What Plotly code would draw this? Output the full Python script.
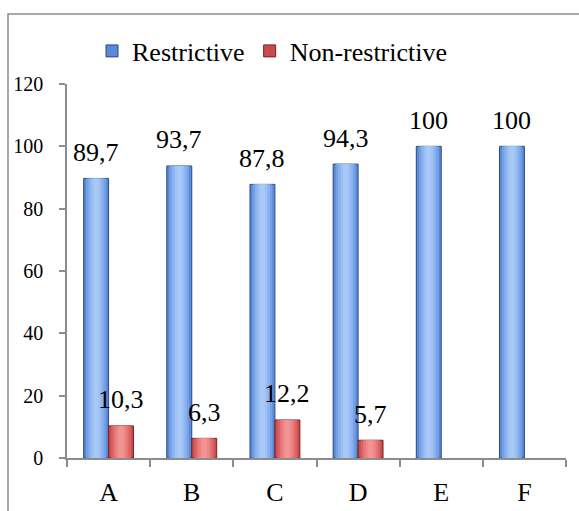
import plotly.graph_objects as go

categories = ["A", "B", "C", "D", "E", "F"]
restrictive = [89.7, 93.7, 87.8, 94.3, 100, 100]
non_restrictive = [10.3, 6.3, 12.2, 5.7, None, None]
restrictive_labels = ["89,7", "93,7", "87,8", "94,3", "100", "100"]
non_restrictive_labels = ["10,3", "6,3", "12,2", "5,7", "", ""]
y_ticks = [0, 20, 40, 60, 80, 100, 120]

FONT = "Liberation Serif"
BAR_W = 0.3

blue_layers = ["#5a88d6", "#74a0e6", "#8ab2ee", "#9cc0f4", "#a8c9f8"]
red_layers = ["#c84c4c", "#da6262", "#e67676", "#ee8888", "#f29494"]
fracs = [1.0, 0.8, 0.6, 0.4, 0.2]

fig = go.Figure()

def add_series(name, values, colors, line_color, side):
    for i, (f, c) in enumerate(zip(fracs, colors)):
        w = BAR_W * f
        center = -BAR_W / 2 if side < 0 else BAR_W / 2
        fig.add_trace(go.Bar(
            x=categories, y=values, name=name,
            width=w, offset=center - w / 2,
            marker=dict(color=c, line=dict(color=line_color if i == 0 else c, width=1 if i == 0 else 0)),
            showlegend=(i == 0), legendgroup=name, hoverinfo="skip" if i else None,
        ))

add_series("Restrictive", restrictive, blue_layers, "#2c4c80", -1)
add_series("Non-restrictive", non_restrictive, red_layers, "#7a2020", 1)

annotations = []
for cat, v, t in zip(categories, restrictive, restrictive_labels):
    if v is not None and t:
        annotations.append(dict(x=cat, y=v, text=t, showarrow=False, xshift=-12.5, yshift=26,
                                yanchor="middle", font=dict(family=FONT, size=26, color="black")))
for cat, v, t in zip(categories, non_restrictive, non_restrictive_labels):
    if v is not None and t:
        annotations.append(dict(x=cat, y=v, text=t, showarrow=False, xshift=12.5, yshift=26,
                                yanchor="middle", font=dict(family=FONT, size=26, color="black")))

L, R, T, B = 67, 13, 84, 53
W, H = 579, 511
pw, ph = W - L - R, H - T - B

fig.update_layout(
    width=W, height=H,
    margin=dict(l=L, r=R, t=T, b=B, autoexpand=False),
    paper_bgcolor="white", plot_bgcolor="white",
    barmode="overlay",
    font=dict(family=FONT, color="black"),
    annotations=annotations,
    showlegend=True,
    legend=dict(orientation="h", x=(92 - L) / pw, xanchor="left", y=1 + (T - 51) / ph, yanchor="middle",
                font=dict(family=FONT, size=26), traceorder="normal", itemwidth=30,
                bgcolor="rgba(0,0,0,0)"),
    xaxis=dict(type="category", showline=True, linecolor="#8c8c8c", linewidth=1.5,
               ticks="outside", ticklen=7, tickcolor="#8c8c8c", tickwidth=1.5, tickson="boundaries",
               tickfont=dict(family=FONT, size=26), ticklabelstandoff=10, showgrid=False,
               range=[-0.5, 5.5], automargin=False),
    yaxis=dict(range=[0, 120], tickvals=y_ticks, showline=True, linecolor="#8c8c8c", linewidth=1.5,
               ticks="outside", ticklen=6, tickcolor="#8c8c8c", tickwidth=1.5,
               tickfont=dict(family=FONT, size=20), ticklabelstandoff=12, showgrid=False, zeroline=False,
               automargin=False),
    shapes=[dict(type="rect", xref="paper", yref="paper",
                 x0=(8 - L) / pw, x1=(600 - L) / pw,
                 y0=-(540 - (H - B)) / ph, y1=1 + (T - 14) / ph,
                 line=dict(color="#8c8c8c", width=1.5), fillcolor="rgba(0,0,0,0)", layer="below")],
)

fig.write_html("out.html", config={"displayModeBar": False},
               post_script="document.body.style.margin='0';document.body.style.padding='0';")
